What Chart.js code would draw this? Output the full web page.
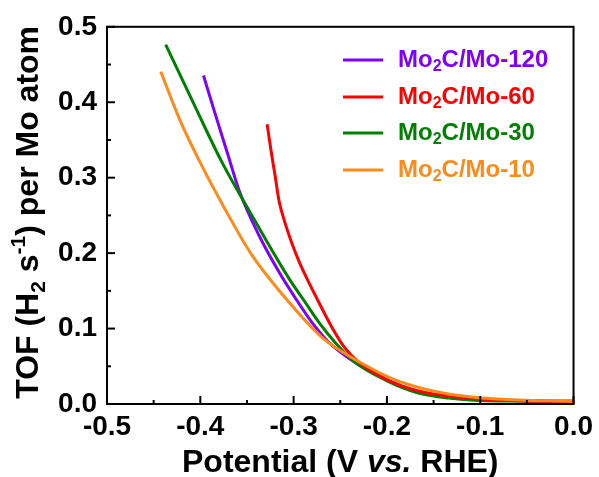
<!DOCTYPE html>
<html><head><meta charset="utf-8">
<script src="https://cdn.jsdelivr.net/npm/chart.js@4"></script>
<style>html,body{margin:0;padding:0;background:#fff}</style>
</head><body>
<canvas id="c" width="599" height="477" style="width:599px;height:477px;display:block"></canvas>
<script>
// ---- data ----
const seriesSuffix = ['120', '60', '30', '10'];
const seriesColors = ['#8000FF', '#FF0000', '#008000', '#FF8A1A'];

const potMo120 = [-0.3966, -0.3849, -0.3699, -0.3582, -0.3369, -0.3134, -0.2964, -0.2804, -0.2623, -0.2409, -0.2015, -0.1663, -0.1343, -0.0810, 0.0];
const tofMo120 = [0.4354, 0.3879, 0.3285, 0.2823, 0.2230, 0.1702, 0.1372, 0.1082, 0.0818, 0.0607, 0.0330, 0.0158, 0.0092, 0.0053, 0.0026];

const potMo60 = [-0.3284, -0.3241, -0.3198, -0.3156, -0.3092, -0.3017, -0.2932, -0.2836, -0.2729, -0.2601, -0.2463, -0.2303, -0.2015, -0.1663, -0.1343, -0.0810, 0.0];
const tofMo60 = [0.3707, 0.3351, 0.3021, 0.2691, 0.2401, 0.2124, 0.1860, 0.1609, 0.1346, 0.1042, 0.0765, 0.0554, 0.0330, 0.0172, 0.0106, 0.0053, 0.0033];

const potMo30 = [-0.4371, -0.4062, -0.3774, -0.3475, -0.3049, -0.2889, -0.2729, -0.2548, -0.2356, -0.2015, -0.1663, -0.1343, -0.0810, 0.0];
const tofMo30 = [0.4763, 0.3958, 0.3219, 0.2559, 0.1662, 0.1372, 0.1082, 0.0805, 0.0567, 0.0317, 0.0145, 0.0079, 0.0040, 0.0040];

const potMo10 = [-0.4424, -0.4222, -0.4009, -0.3742, -0.3443, -0.3102, -0.2697, -0.2271, -0.1876, -0.1343, -0.0810, 0.0];
const tofMo10 = [0.4406, 0.3773, 0.3219, 0.2599, 0.1966, 0.1425, 0.0884, 0.0541, 0.0303, 0.0132, 0.0066, 0.0033];

const xTickValues = [-0.5, -0.4, -0.3, -0.2, -0.1, 0.0];
const yTickValues = [0.0, 0.1, 0.2, 0.3, 0.4, 0.5];

// ---- build ----
const FONT = '"Liberation Sans", Arial, sans-serif';
const pots = [potMo120, potMo60, potMo30, potMo10];
const tofs = [tofMo120, tofMo60, tofMo30, tofMo10];
const drawOrder = [3, 1, 2, 0]; // lower = on top

const datasets = pots.map((p, i) => ({
  label: 'Mo2C/Mo-' + seriesSuffix[i],
  data: p.map((v, k) => ({ x: v, y: tofs[i][k] })),
  borderColor: seriesColors[i],
  backgroundColor: seriesColors[i],
  borderWidth: 3,
  pointRadius: 0,
  showLine: true,
  cubicInterpolationMode: 'monotone',
  order: drawOrder[i]
}));

function line(ctx, x1, y1, x2, y2) { ctx.beginPath(); ctx.moveTo(x1, y1); ctx.lineTo(x2, y2); ctx.stroke(); }

const deco = {
  id: 'deco',
  afterDraw(chart) {
    const { ctx, chartArea: a, scales: { x, y } } = chart;
    ctx.save();
    ctx.strokeStyle = '#000';
    ctx.lineWidth = 2;
    ctx.strokeRect(a.left, a.top, a.right - a.left, a.bottom - a.top);
    // inward ticks (major + minor)
    for (let i = 0; i < xTickValues.length; i++) {
      const px = x.getPixelForValue(xTickValues[i]);
      line(ctx, px, a.bottom, px, a.bottom - 8);
      if (i < xTickValues.length - 1) {
        const pm = x.getPixelForValue((xTickValues[i] + xTickValues[i + 1]) / 2);
        line(ctx, pm, a.bottom, pm, a.bottom - 4);
      }
    }
    for (let i = 0; i < yTickValues.length; i++) {
      const py = y.getPixelForValue(yTickValues[i]);
      line(ctx, a.left, py, a.left + 8, py);
      if (i < yTickValues.length - 1) {
        const pm = y.getPixelForValue((yTickValues[i] + yTickValues[i + 1]) / 2);
        line(ctx, a.left, pm, a.left + 4, pm);
      }
    }
    ctx.fillStyle = '#000';
    ctx.textBaseline = 'alphabetic';
    // x title
    const big = 'bold 32px ' + FONT, bigIt = 'italic bold 32px ' + FONT;
    const xParts = [['Potential (V ', big], ['vs.', bigIt], [' RHE)', big]];
    let tw = 0;
    xParts.forEach(p => { ctx.font = p[1]; tw += ctx.measureText(p[0]).width; });
    let cx = (a.left + a.right) / 2 - tw / 2;
    ctx.textAlign = 'left';
    xParts.forEach(p => { ctx.font = p[1]; ctx.fillText(p[0], cx, 472); cx += ctx.measureText(p[0]).width; });
    // y title
    const sm = 'bold 21px ' + FONT;
    const yParts = [['TOF (H', big, 0], ['2', sm, 7], [' s', big, 0], ['-1', sm, -13], [') per Mo atom', big, 0]];
    tw = 0;
    yParts.forEach(p => { ctx.font = p[1]; tw += ctx.measureText(p[0]).width; });
    ctx.save();
    ctx.translate(38, (a.top + a.bottom) / 2 - 3);
    ctx.rotate(-Math.PI / 2);
    cx = -tw / 2;
    yParts.forEach(p => { ctx.font = p[1]; ctx.fillText(p[0], cx, p[2]); cx += ctx.measureText(p[0]).width; });
    ctx.restore();
    // legend
    const rows = [60, 97, 133, 170];
    const lf = 'bold 24px ' + FONT, lsub = 'bold 16px ' + FONT;
    seriesSuffix.forEach((s, i) => {
      const yy = rows[i];
      ctx.strokeStyle = seriesColors[i];
      ctx.lineWidth = 3;
      line(ctx, 343, yy, 383, yy);
      ctx.fillStyle = seriesColors[i];
      ctx.textBaseline = 'middle';
      let tx = 398;
      ctx.font = lf; ctx.fillText('Mo', tx, yy); tx += ctx.measureText('Mo').width;
      ctx.font = lsub; ctx.fillText('2', tx, yy + 7); tx += ctx.measureText('2').width;
      ctx.font = lf; ctx.fillText('C/Mo-' + s, tx, yy);
    });
    ctx.restore();
  }
};

new Chart(document.getElementById('c'), {
  type: 'scatter',
  data: { datasets },
  options: {
    responsive: false,
    animation: false,
    devicePixelRatio: 1,
    layout: { padding: { top: 25, right: 23, left: 0, bottom: 0 } },
    plugins: { legend: { display: false }, tooltip: { enabled: false } },
    scales: {
      x: {
        type: 'linear', min: -0.5, max: 0,
        afterBuildTicks: s => { s.ticks = xTickValues.map(v => ({ value: v })); },
        afterFit: s => { s.height = 73; },
        grid: { display: false, drawTicks: false },
        border: { display: false },
        ticks: { color: '#000', padding: 6, maxRotation: 0, font: { family: FONT, size: 28, weight: 'bold' },
          callback: v => v.toFixed(1) }
      },
      y: {
        type: 'linear', min: 0, max: 0.5,
        afterBuildTicks: s => { s.ticks = yTickValues.map(v => ({ value: v })); },
        afterFit: s => { s.width = 107; },
        grid: { display: false, drawTicks: false },
        border: { display: false },
        ticks: { color: '#000', padding: 10, font: { family: FONT, size: 28, weight: 'bold' },
          callback: v => v.toFixed(1) }
      }
    }
  },
  plugins: [deco]
});
</script>
</body></html>
